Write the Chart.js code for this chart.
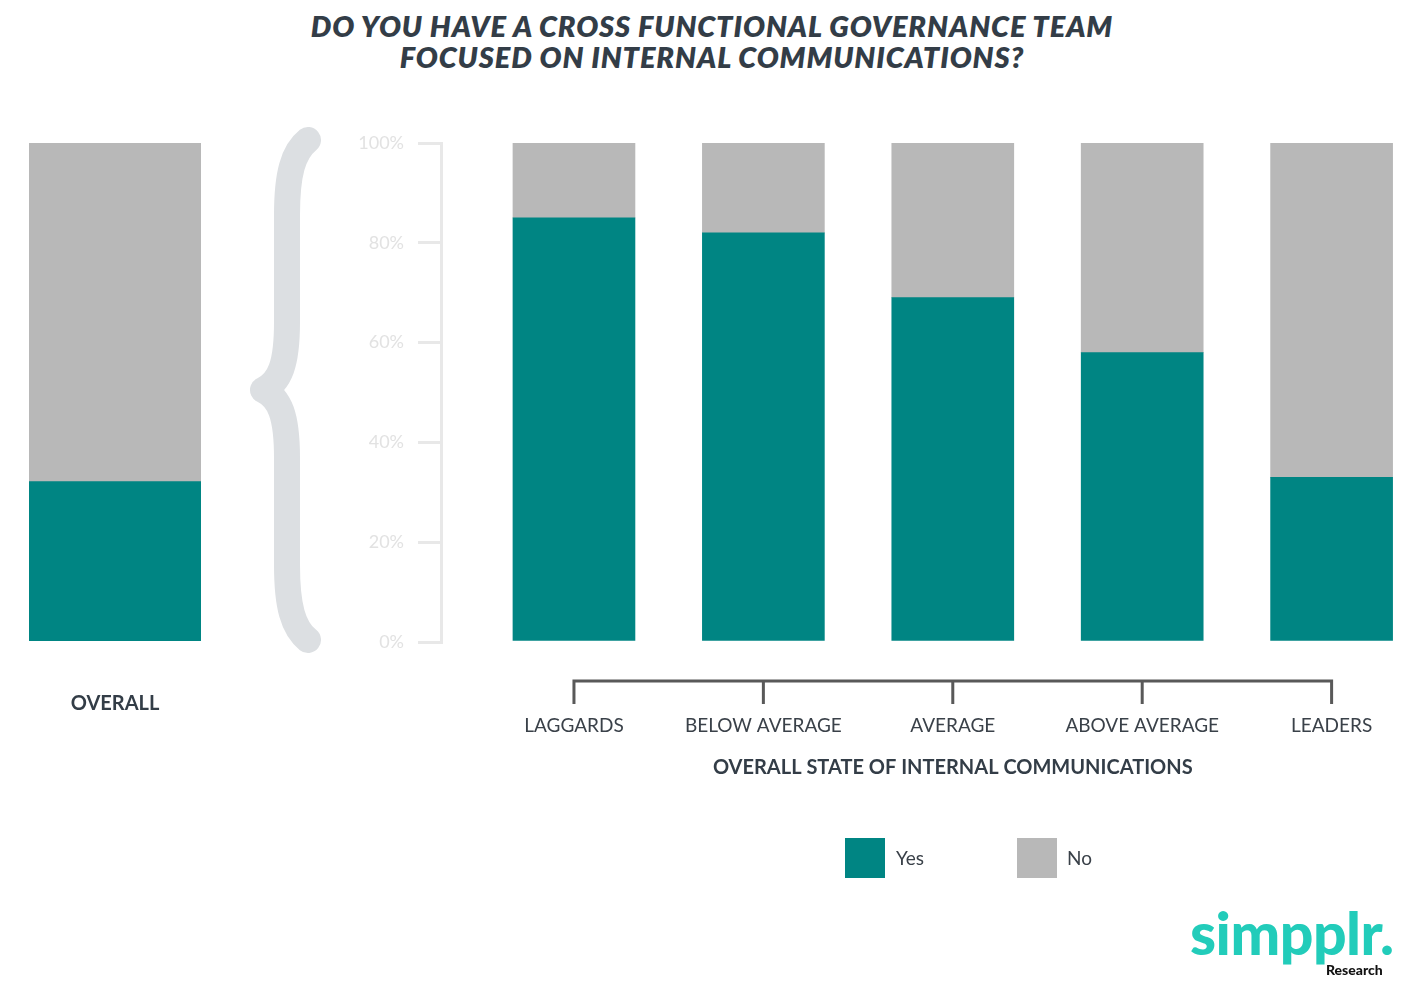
<!DOCTYPE html>
<html>
<head>
<meta charset="utf-8">
<script src="https://cdn.jsdelivr.net/npm/chart.js@4.4.1/dist/chart.umd.min.js"></script>
<style>
  html, body { margin: 0; padding: 0; background: #fff; overflow: hidden; }
  #page { position: relative; width: 1414px; height: 1003px; font-family: Lato, sans-serif; }
  canvas { position: absolute; top: 0; }
  #title {
    position: absolute; top: 10px; left: 0; width: 1424px; text-align: center;
    font: italic 800 29px/31px Lato, sans-serif; color: #333d47; letter-spacing: 0.9px;
  }
  #brace { position: absolute; left: 0; top: 0; }
  .leg { position: absolute; top: 838px; width: 40px; height: 40px; }
  .legtxt { position: absolute; top: 847px; font-size: 19px; color: #3a4149; line-height: 22px; }
  #logo { position: absolute; left: 1190px; top: 898px; font: 900 59px/70px Lato, sans-serif; color: #22ccba; letter-spacing: -0.5px; }
  #research { position: absolute; left: 1326px; top: 961px; font: 900 14px Lato, sans-serif; color: #111; }
</style>
</head>
<body>
<div id="page">
  <div id="title">DO YOU HAVE A CROSS FUNCTIONAL GOVERNANCE TEAM<br>FOCUSED ON INTERNAL COMMUNICATIONS?</div>
  <svg id="brace" width="400" height="700">
    <path d="M 308 140 C 293 152, 287 174, 287 215 L 287 322 C 287 364, 280 382, 263 390 C 280 398, 287 416, 287 458 L 287 565 C 287 606, 293 628, 308 640"
      fill="none" stroke="#dcdfe2" stroke-width="26" stroke-linecap="round" stroke-linejoin="round"/>
  </svg>
  <canvas id="overall" width="230" height="1003" style="left:0"></canvas>
  <canvas id="main" width="1414" height="1003" style="left:0"></canvas>
  <div class="leg" id="legYes" style="left:845px"></div>
  <div class="legtxt" style="left:896px">Yes</div>
  <div class="leg" id="legNo" style="left:1017px"></div>
  <div class="legtxt" style="left:1067px">No</div>
  <div id="logo">simpplr.</div>
  <div id="research">Research</div>
</div>
<script>
// data
const categories = ['LAGGARDS', 'BELOW AVERAGE', 'AVERAGE', 'ABOVE AVERAGE', 'LEADERS']
const yesValues = [85, 82, 69, 58, 33]
const noValues = [15, 18, 31, 42, 67]
const overallLabel = ['OVERALL']
const overallYes = [32]
const overallNo = [68]
const yTicks = [0, 20, 40, 60, 80, 100]
const xTitle = 'OVERALL STATE OF INTERNAL COMMUNICATIONS'

// styles
const TEAL = '#008583'
const GREY = '#b8b8b8'
const DARK = '#333d47'
const FONT = 'Lato, sans-serif'

document.querySelector('#legYes').style.background = TEAL
document.querySelector('#legNo').style.background = GREY

// bracket under the categories
const bracketAxis = {
	id: 'bracketAxis',
	afterDraw(chart) {
		const { ctx, chartArea } = chart
		const xs = chart.scales.x
		const lineY = chartArea.bottom + 39
		const first = xs.getPixelForValue(0)
		const last = xs.getPixelForValue(categories.length - 1)
		
		ctx.save()
		ctx.strokeStyle = '#595959'
		ctx.lineWidth = 3
		ctx.beginPath()
		ctx.moveTo(first - 1.5, lineY)
		ctx.lineTo(last + 1.5, lineY)
		categories.forEach((c, i) => {
			const x = xs.getPixelForValue(i)
			ctx.moveTo(x, lineY)
			ctx.lineTo(x, lineY + 23)
		})
		ctx.stroke()
		
		ctx.fillStyle = '#3a4149'
		ctx.textAlign = 'center'
		ctx.textBaseline = 'middle'
		ctx.font = `19px ${FONT}`
		categories.forEach((c, i) => {
			ctx.fillText(c, xs.getPixelForValue(i), lineY + 45)
		})
		
		ctx.fillStyle = DARK
		ctx.font = `bold 20px ${FONT}`
		ctx.fillText(xTitle, (first + last) / 2, lineY + 87)
		ctx.restore()
	}
}

// main chart
new Chart(document.querySelector('#main'), {
	type: 'bar',
	data: {
		datasets: [
			{ label: 'Yes', data: yesValues.map((v, i) => ({ x: i, y: v })), backgroundColor: TEAL, barThickness: 122 },
			{ label: 'No', data: noValues.map((v, i) => ({ x: i, y: v })), backgroundColor: GREY, barThickness: 122 }
		]
	},
	options: {
		responsive: false,
		animation: false,
		layout: { padding: { left: 341, right: 0, top: 143, bottom: 361 } },
		plugins: { legend: { display: false }, tooltip: { enabled: false } },
		scales: {
			x: { type: 'linear', display: false, offset: false, stacked: true, min: -0.702, max: 4.435 },
			y: {
				stacked: true,
				min: 0,
				max: 100,
				afterFit: s => { s.width = 100 },
				afterBuildTicks: s => { s.ticks = yTicks.map(v => ({ value: v })) },
				ticks: { callback: v => v + '%', color: '#e2e2e2', font: { family: FONT, size: 18 }, padding: 14 },
				grid: { drawOnChartArea: false, tickLength: 23, color: '#e8e8e8', lineWidth: 3 },
				border: { color: '#e8e8e8', width: 3 }
			}
		}
	},
	plugins: [bracketAxis]
})

// overall chart on the left
new Chart(document.querySelector('#overall'), {
	type: 'bar',
	data: {
		labels: overallLabel,
		datasets: [
			{ label: 'Yes', data: overallYes, backgroundColor: TEAL },
			{ label: 'No', data: overallNo, backgroundColor: GREY }
		]
	},
	options: {
		responsive: false,
		animation: false,
		barPercentage: 1,
		categoryPercentage: 1,
		layout: { padding: { left: 29, right: 29, top: 143, bottom: 0 } },
		plugins: { legend: { display: false }, tooltip: { enabled: false } },
		scales: {
			x: {
				stacked: true,
				afterFit: s => { s.height = 362 },
				grid: { display: false, drawTicks: false },
				border: { display: false },
				ticks: { color: DARK, font: { family: FONT, size: 20, weight: 'bold' }, padding: 51 }
			},
			y: { stacked: true, display: false, min: 0, max: 100 }
		}
	}
})
</script>
</body>
</html>
